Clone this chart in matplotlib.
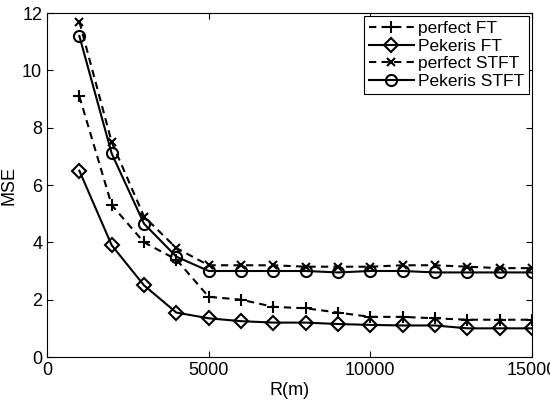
import matplotlib
matplotlib.use("Agg")
import matplotlib.pyplot as plt

plt.rcParams['font.family'] = ['Liberation Sans', 'DejaVu Sans']

R = [1000, 2000, 3000, 4000, 5000, 6000, 7000, 8000, 9000, 10000, 11000, 12000, 13000, 14000, 15000]
perfect_ft = [9.1, 5.3, 4.0, 3.4, 2.1, 2.0, 1.75, 1.7, 1.55, 1.4, 1.4, 1.35, 1.3, 1.3, 1.3]
pekeris_ft = [6.5, 3.9, 2.5, 1.55, 1.35, 1.25, 1.2, 1.2, 1.15, 1.12, 1.1, 1.1, 1.0, 1.0, 1.0]
perfect_stft = [11.7, 7.5, 4.9, 3.8, 3.2, 3.2, 3.2, 3.15, 3.15, 3.15, 3.2, 3.2, 3.15, 3.1, 3.1]
pekeris_stft = [11.2, 7.1, 4.65, 3.5, 3.0, 3.0, 3.0, 3.0, 2.95, 3.0, 3.0, 2.95, 2.95, 2.95, 2.95]

fig = plt.figure(figsize=(5.5, 4.05), dpi=100)
ax = fig.add_axes([47/550, 1 - 357/405, (532-47)/550, (357-13)/405])

kw = dict(color='black', linewidth=1.5, markersize=8, markerfacecolor='none', markeredgewidth=1.5)
ax.plot(R, perfect_ft, linestyle=(0, (3.5, 2.5)), marker='+', label='perfect FT', **kw)
ax.plot(R, pekeris_ft, linestyle='-', marker='D', label='Pekeris FT', **{**kw, 'markersize': 7})
ax.plot(R, perfect_stft, linestyle=(0, (3.5, 2.5)), marker='x', label='perfect STFT', **{**kw, 'markersize': 6})
ax.plot(R, pekeris_stft, linestyle='-', marker='o', label='Pekeris STFT', **kw)

ax.set_xlim(0, 15000)
ax.set_ylim(0, 12)
ax.set_xticks([0, 5000, 10000, 15000])
ax.set_yticks([0, 2, 4, 6, 8, 10, 12])
ax.tick_params(direction='in', top=True, right=True, labelsize=13, length=4)
ax.set_xlabel('R(m)', fontsize=13, labelpad=2)
ax.set_ylabel('MSE', fontsize=13, labelpad=3)

leg = ax.legend(loc='upper right', fontsize=12.5, fancybox=False, edgecolor='black',
                handlelength=2.6, borderpad=0.25, labelspacing=0.15, handletextpad=0.25,
                borderaxespad=0.2, framealpha=1)
leg.get_frame().set_linewidth(0.8)

fig.savefig('out.png', dpi=100)
